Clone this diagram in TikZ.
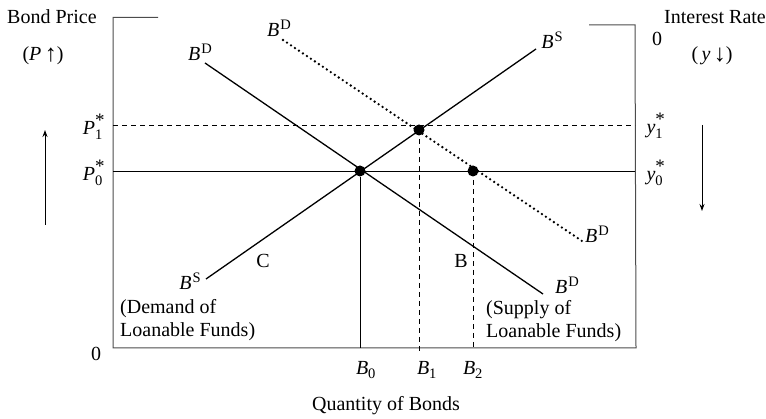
\documentclass[tikz,border=0pt]{standalone}
\usepackage{fontspec}
\setmainfont{Liberation Serif}
\usetikzlibrary{arrows.meta}
\newcommand{\BB}[1]{\textit{B}\kern0.05em\raisebox{0.75ex}{\fontsize{14.5}{14.5}\selectfont #1}}
\newcommand{\SSub}[3]{$\mbox{\textit{#1}}^{\mbox{\fontsize{19}{19}\selectfont #3}}_{\mbox{\fontsize{14.5}{14.5}\selectfont #2}}$}
\newcommand{\BSub}[1]{$\mbox{\textit{B}}_{\mbox{\fontsize{14.5}{14.5}\selectfont #1}}$}
\newcommand{\bigarr}[1]{{\fontsize{24}{24}\selectfont\raisebox{-0.1ex}{#1}}}
\begin{document}
\begin{tikzpicture}[x=1pt,y=-1pt,
  every node/.style={font=\fontsize{20}{23}\selectfont, inner sep=0pt},
  axisline/.style={draw=black!70, line width=1pt},
  curve/.style={draw=black, line width=1.3pt},
  guide/.style={draw=black, line width=0.9pt},
  dashguide/.style={draw=black, line width=0.9pt, dash pattern=on 5pt off 4pt},
  dotcurve/.style={draw=black, line width=2.6pt, dash pattern=on 0pt off 4.8pt, line cap=round},
  dot/.style={circle, fill=black, minimum size=11pt, inner sep=0pt},
  sidearrow/.style={draw=black, line width=0.9pt, -{Stealth[length=7pt,width=5pt]}}]
\useasboundingbox (0,0) rectangle (766,419);
% axes
\coordinate (LT) at (113,17.5);
\coordinate (LTt) at (158,17.5);
\coordinate (O) at (113,348);
\coordinate (BR) at (636,348);
\coordinate (RT) at (635,25);
\coordinate (RTt) at (589,25);
\draw[axisline] (LTt) -- (LT) -- (O) -- (BR) -- (RT) -- (RTt);
% guides
\coordinate (P1L) at (113,125); \coordinate (P1R) at (635,125);
\coordinate (P0L) at (113,171); \coordinate (P0R) at (635,171);
\draw[dashguide] (P1L) -- (P1R);
\draw[guide] (P0L) -- (P0R);
% curves
\coordinate (D0a) at (205,63); \coordinate (D0b) at (543,294);
\coordinate (D1a) at (283,40); \coordinate (D1b) at (582,241);
\coordinate (Sa) at (206,279); \coordinate (Sb) at (536,49);
\draw[curve] (D0a) -- (D0b);
\draw[curve] (Sa) -- (Sb);
\draw[dotcurve] (D1a) -- (D1b);
% equilibria
\node[dot] (E0) at (360,171) {};
\node[dot] (E1) at (419,130) {};
\node[dot] (E2) at (473,171) {};
\coordinate (B0b) at (360,348);
\coordinate (B1b) at (419,352);
\coordinate (B2b) at (473,348);
\draw[guide] (E0) -- (B0b);
\draw[dashguide] (E1.center) -- (B1b);
\draw[dashguide] (E2.center) -- (B2b);
% side arrows
\coordinate (LA1) at (45,225); \coordinate (LA2) at (45,130);
\coordinate (RA1) at (702,125); \coordinate (RA2) at (702,211);
\draw[sidearrow] (LA1) -- (LA2);
\draw[sidearrow] (RA1) -- (RA2);
% labels
\node[anchor=west] (bp) at (7,17) {Bond Price};
\node (pu) at (43,56) {(\textit{P}\,\bigarr{↑})};
\node[anchor=east] (ir) at (766,17) {Interest Rate};
\node (yd) at (712,56) {(\,\textit{y}\,\bigarr{↓})};
\node (z1) at (657,39) {0};
\node (z0) at (96,354) {0};
\node (p1) at (94,127) {\SSub{P}{1}{*}};
\node (p0) at (94,173) {\SSub{P}{0}{*}};
\node (y1) at (656,126) {\SSub{y}{1}{*}};
\node (y0) at (656,173) {\SSub{y}{0}{*}};
\node (lD0a) at (200,52) {\BB{D}};
\node (lD1a) at (279,28) {\BB{D}};
\node (lSb) at (552,40) {\BB{S}};
\node (lSa) at (190,281) {\BB{S}};
\node (lD1b) at (597,234) {\BB{D}};
\node (lD0b) at (567,285) {\BB{D}};
\node (C) at (263,261) {C};
\node (B) at (461,261) {B};
\node[anchor=west, align=left] (dem) at (120,320) {(Demand of\\Loanable Funds)};
\node[anchor=west, align=left] (sup) at (486,321) {(Supply of\\Loanable Funds)};
\node (b0) at (366,370) {\BSub{0}};
\node (b1) at (427,370) {\BSub{1}};
\node (b2) at (473,370) {\BSub{2}};
\node (qb) at (386,406) {Quantity of Bonds};
\end{tikzpicture}
\end{document}
